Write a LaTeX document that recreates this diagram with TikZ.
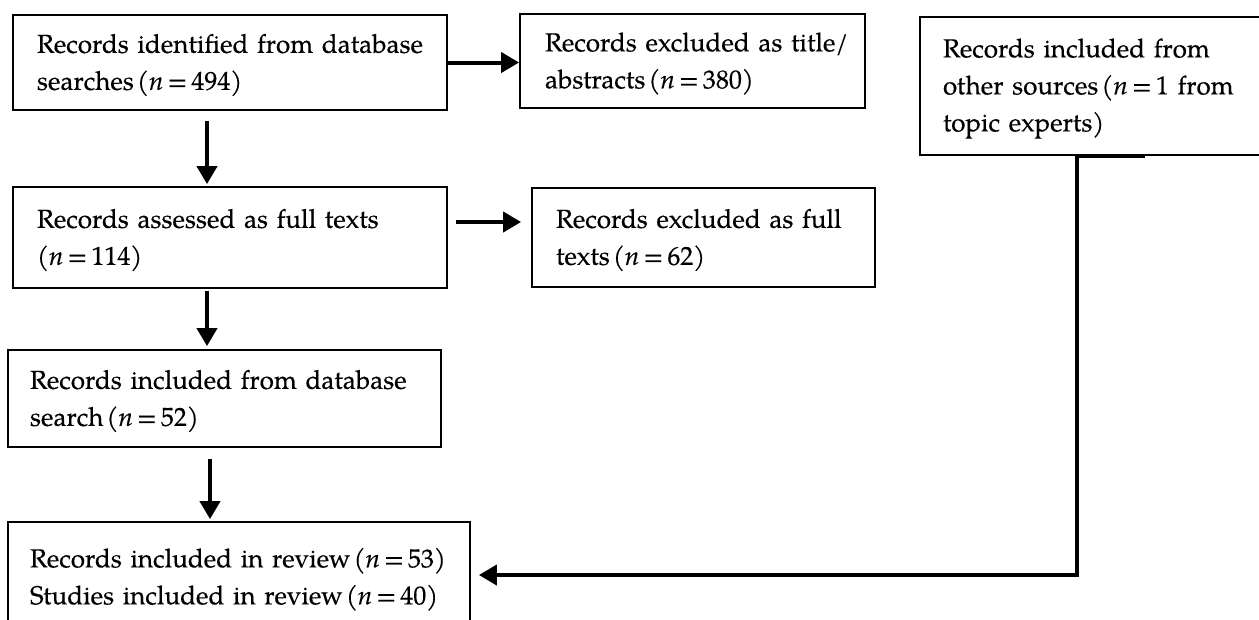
\documentclass[tikz,border=0pt]{standalone}
\usepackage{fontspec}
\setmainfont{texgyrepagella}[Extension=.otf, UprightFont=*-regular, ItalicFont=*-italic, BoldFont=*-bold, BoldItalicFont=*-bolditalic, FakeBold=0.3]
\usetikzlibrary{arrows.meta}
\tikzset{
  flowbox/.style={draw=black, line width=1.8pt, fill=white, align=left,
    font=\fontsize{26}{37}\selectfont, inner ysep=0pt},
  arr/.style={line width=4pt, -{Triangle[length=18pt,width=20pt]}},
  thickseg/.style={line width=4pt},
}
\newcommand{\nn}[1]{\hspace{0.12em}(\textit{n}\hspace{0.16em}=\hspace{0.16em}#1}
\newcommand{\tstrut}{\rule{0pt}{24pt}}
\begin{document}
\begin{tikzpicture}[x=1pt,y=-1pt]
\useasboundingbox (0,0) rectangle (1259,619);
\fill[white] (0,0) rectangle (1259,619);

\node[flowbox, inner xsep=24pt, text width=386pt, minimum height=95pt] (b1) at (230,62.5)
  {\mbox{\tstrut Records identified from database}\\\mbox{searches\nn{494})}};
\node[flowbox, inner xsep=25pt, text width=295pt, minimum height=94pt] (b2) at (692.5,61)
  {\mbox{\tstrut Records excluded as title/}\\\mbox{abstracts\nn{380})}};
\node[flowbox, inner xsep=23pt, text width=296pt, minimum height=138pt] (src) at (1091,86)
  {\mbox{\tstrut Records included from}\\\mbox{other sources\nn{1} from}\\\mbox{topic experts)}};
\node[flowbox, inner xsep=24pt, text width=386pt, minimum height=101pt] (b4) at (230,237.5)
  {\mbox{\tstrut Records assessed as full texts}\\\mbox{(\textit{n}\hspace{0.16em}=\hspace{0.16em}114)}};
\node[flowbox, inner xsep=24pt, text width=295pt, minimum height=99pt] (b5) at (703.5,237.5)
  {\mbox{\tstrut Records excluded as full}\\\mbox{texts\nn{62})}};
\node[flowbox, inner xsep=22pt, text width=389pt, minimum height=97pt] (b6) at (224.5,398.5)
  {\mbox{\tstrut Records included from database}\\\mbox{search\nn{52})}};
\node[flowbox, inner xsep=22pt, text width=418pt, minimum height=110pt] (b7) at (239,577)
  {\mbox{\tstrut Records included in review\nn{53})}\\\mbox{Studies included in review\nn{40})}};

\draw[arr] (b1.east) -- (b1.east -| b2.west);
\draw[arr] ([shift={(-23,10)}]b1.south) -- ([shift={(-23,-2)}]b4.north);
\draw[arr] ([shift={(8,-15.5)}]b4.east) -- ([shift={(-10,-15.5)}]b5.west);
\draw[arr] ([shift={(-23,2)}]b4.south) -- ([shift={(-17.5,-3)}]b6.north);
\draw[arr] ([shift={(-14.5,11)}]b6.south) -- ([shift={(-29,-2)}]b7.north);
\draw[thickseg] ([shift={(-16,0)}]src.south) -- ([shift={(54,0)}]src.south);
\draw[arr] ([shift={(-14,0)}]src.south) |- ([shift={(8,-2)}]b7.east);
\end{tikzpicture}
\end{document}
